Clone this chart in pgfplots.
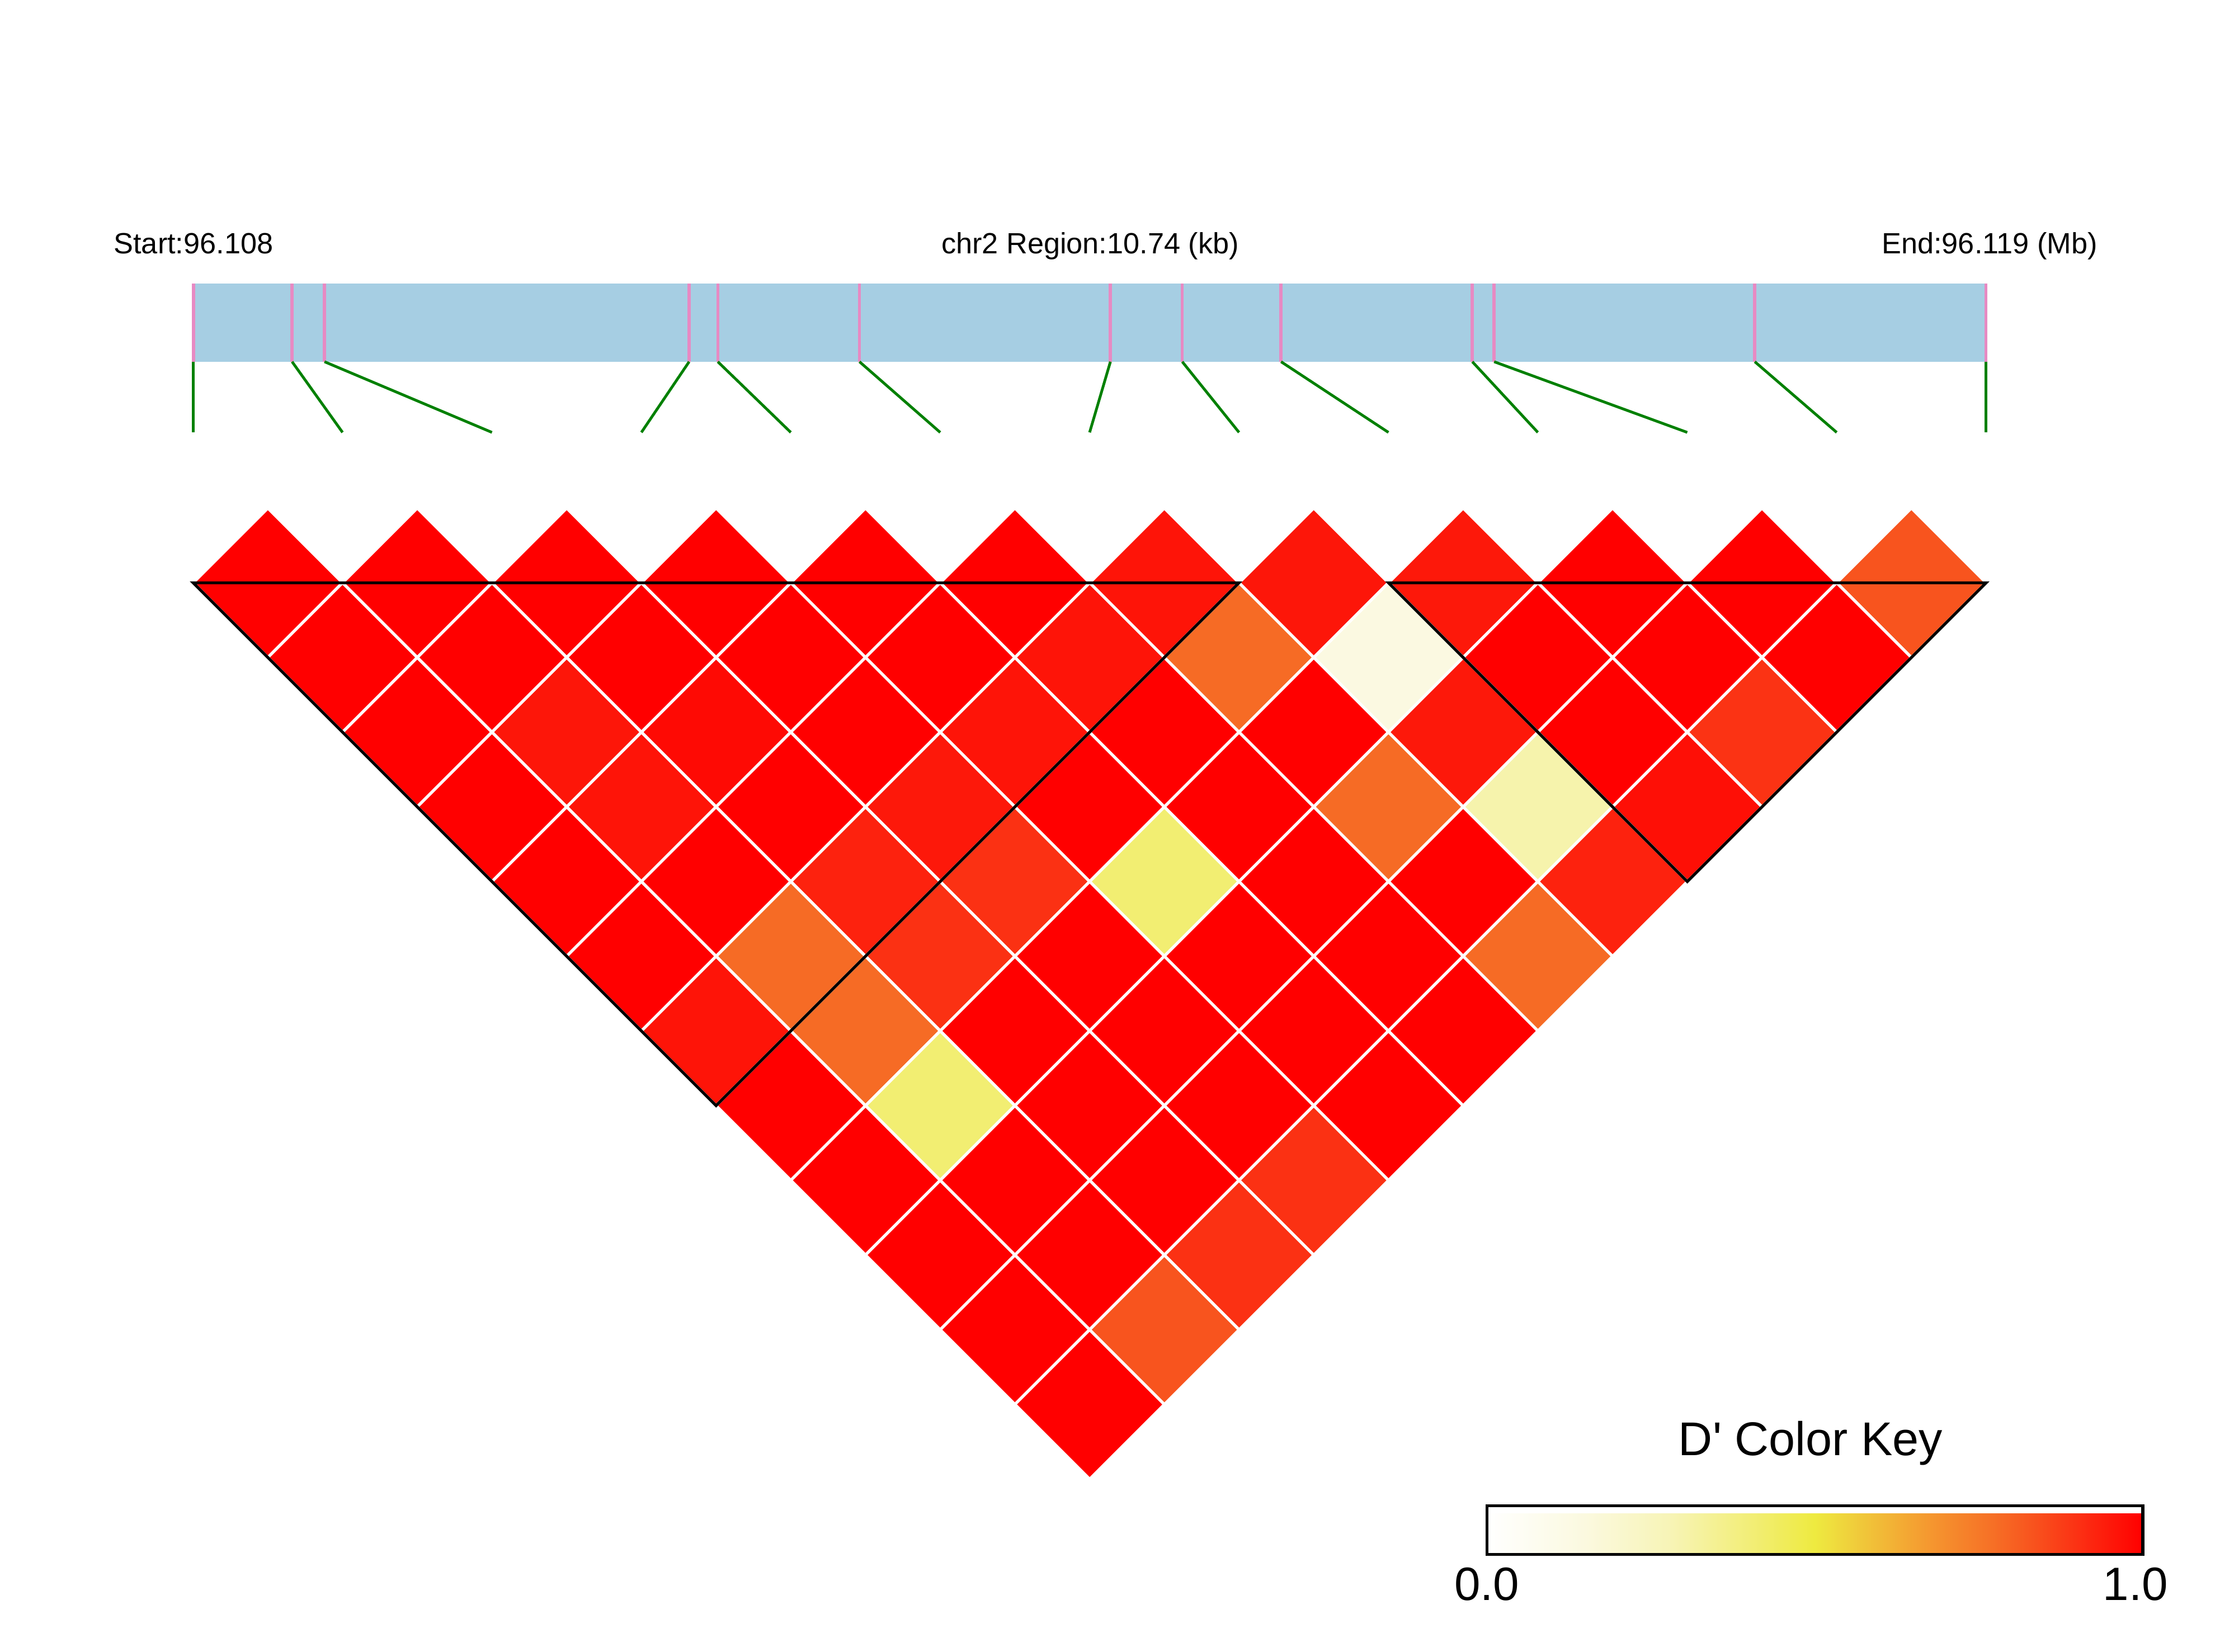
\documentclass[border=0pt]{standalone}
\usepackage{fontspec}
\setmainfont{Liberation Sans}
\usepackage{pgfplots}
\usepackage{pgfplotstable}
\pgfplotsset{compat=1.18}
\definecolor{barblue}{RGB}{166,206,227}
\definecolor{snppink}{RGB}{231,138,195}
\definecolor{snpgreen}{RGB}{0,128,0}

% pairwise D' values (SNP i, SNP j, D')
\pgfplotstableread{
i j d
0 1 1
1 2 1
2 3 1
3 4 1
4 5 1
5 6 1
6 7 0.96
7 8 0.955
8 9 0.95
9 10 1
10 11 1
11 12 0.83
0 2 1
1 3 1
2 4 1
3 5 1
4 6 1
5 7 0.96
6 8 0.78
7 9 0.14
8 10 1
9 11 1
10 12 1
0 3 1
1 4 0.955
2 5 0.98
3 6 1
4 7 0.96
5 8 1
6 9 1
7 10 0.95
8 11 1
9 12 0.895
0 4 1
1 5 0.96
2 6 1
3 7 0.95
4 8 1
5 9 1
6 10 0.78
7 11 0.30
8 12 0.97
0 5 1
1 6 1
2 7 0.93
3 8 0.90
4 9 0.41
5 10 1
6 11 1
7 12 0.93
0 6 1
1 7 0.78
2 8 0.90
3 9 1
4 10 1
5 11 1
6 12 0.78
0 7 0.96
1 8 0.78
2 9 1
3 10 1
4 11 1
5 12 1
0 8 1
1 9 0.41
2 10 1
3 11 1
4 12 1
0 9 1
1 10 1
2 11 1
3 12 0.90
0 10 1
1 11 1
2 12 0.90
0 11 1
1 12 0.83
0 12 1
}\ldtable

% SNP physical position on the bar and position on the LD triangle
\pgfplotstableread{
phys geno
134.9 134.9
203.7 238.9
226.3 343.1
480.6 447.3
500.6 551.5
599.4 655.7
774.4 759.9
824.5 864.1
893.4 968.3
1026.8 1072.5
1042.0 1176.7
1223.8 1280.9
1385.0 1385.0
}\snptable

\begin{document}
\begin{tikzpicture}
\begin{axis}[
  scale only axis, width=779pt, height=576pt,
  xmin=0, xmax=1558, ymin=0, ymax=1152, y dir=reverse,
  hide axis, clip=false, clip marker paths=true,
  colormap={ld}{rgb255(0pt)=(255,255,255); rgb255(15pt)=(251,249,223); rgb255(28pt)=(247,244,182); rgb255(40pt)=(242,238,120); rgb255(50pt)=(238,234,64); rgb255(57pt)=(240,200,58); rgb255(68pt)=(245,149,47); rgb255(77pt)=(246,112,38); rgb255(83pt)=(248,84,30); rgb255(91pt)=(252,44,18); rgb255(100pt)=(255,0,0)},
  point meta min=0, point meta max=1,
  colorbar horizontal,
  colorbar style={
    at={(parent axis.south west)}, anchor=south west,
    xshift=518.5pt, yshift=42.4pt,
    scale only axis, width=228.7pt, height=17.0pt,
    xtick=\empty, ytick=\empty,
    axis line style={line width=1.0pt, black},
  },
]
% bar
\fill[barblue] (axis cs:134.9,197.9) rectangle (axis cs:1385.0,252.3);
\addplot[snppink, line width=1.1pt, mark=none, quiver={u=0, v=54.4}]
  table[x=phys, y expr=197.9] {\snptable};
\addplot[snpgreen, line width=0.95pt, mark=none, quiver={u=\thisrow{geno}-\thisrow{phys}, v=49.3}]
  table[x=phys, y expr=252.3] {\snptable};

% LD cells
\addplot[scatter, only marks, mark=square*, point meta=explicit,
  scatter/use mapped color={draw=white, fill=mapped color},
  mark size=18.42pt, mark options={rotate=45, line width=1.0pt}]
  table[x expr={134.7+(\thisrow{i}+\thisrow{j})*52.1},
        y expr={406.5+(\thisrow{j}-\thisrow{i}-1)*52.1}, meta=d] {\ldtable};

% haplotype blocks
\addplot[black, line width=1.0pt, mark=none, line join=miter] coordinates {(134.7,406.5) (864.1,406.5) (499.4,771.2)} -- cycle;
\addplot[black, line width=1.0pt, mark=none, line join=miter] coordinates {(968.3,406.5) (1385.1,406.5) (1176.7,614.9)} -- cycle;

% texts
\node[anchor=base west, inner sep=0pt, font=\fontsize{10.2}{12}\selectfont] at (axis cs:79,177) {Start:96.108};
\node[anchor=base, inner sep=0pt, font=\fontsize{10.2}{12}\selectfont] at (axis cs:760.3,177) {chr2 Region:10.74 (kb)};
\node[anchor=base east, inner sep=0pt, font=\fontsize{10.2}{12}\selectfont] at (axis cs:1463.2,177) {End:96.119 (Mb)};
\node[anchor=base, inner sep=0pt, font=\fontsize{16.5}{20}\selectfont] at (axis cs:1262.7,1015) {D\textquotesingle{} Color Key};
\node[anchor=base, inner sep=0pt, font=\fontsize{16.3}{20}\selectfont] at (axis cs:1036.9,1116.4) {0.0};
\node[anchor=base, inner sep=0pt, font=\fontsize{16.3}{20}\selectfont] at (axis cs:1489.3,1116.4) {1.0};

\path (axis cs:0,0) rectangle (axis cs:1558,1152);
\end{axis}
\end{tikzpicture}
\end{document}
